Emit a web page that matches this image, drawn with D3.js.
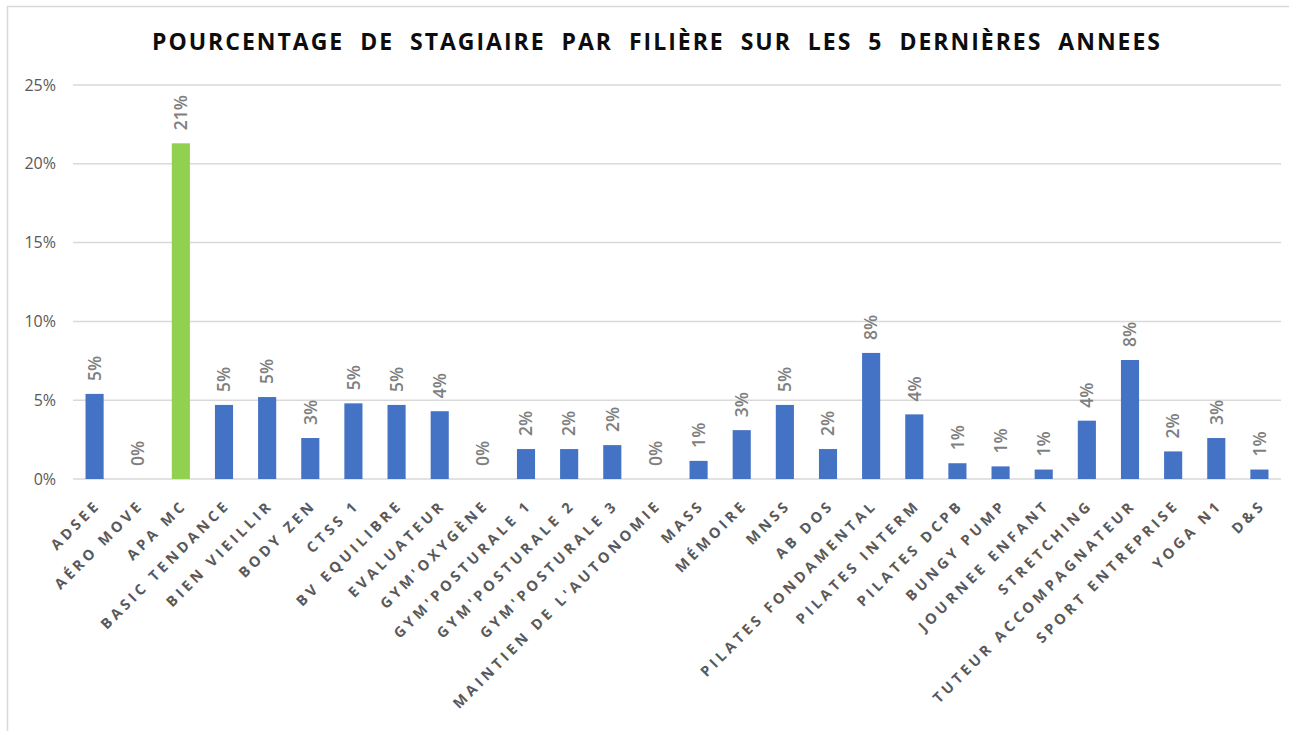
<!DOCTYPE html>
<html>
<head>
<meta charset="utf-8">
<title>Pourcentage de stagiaire par filière</title>
<script src="https://cdnjs.cloudflare.com/ajax/libs/d3/7.8.5/d3.min.js"></script>
<style>
  body { margin: 0; background: #fff; }
  svg text { font-family: "Open Sans", "DejaVu Sans", sans-serif; }
</style>
</head>
<body>
<div id="chart"></div>
<script>
var categories = ["ADSEE", "AÉRO MOVE", "APA MC", "BASIC TENDANCE", "BIEN VIEILLIR", "BODY ZEN",
                  "CTSS 1", "BV EQUILIBRE", "EVALUATEUR", "GYM'OXYGÈNE", "GYM'POSTURALE 1",
                  "GYM'POSTURALE 2", "GYM'POSTURALE 3", "MAINTIEN DE L'AUTONOMIE", "MASS", "MÉMOIRE",
                  "MNSS", "AB DOS", "PILATES FONDAMENTAL", "PILATES INTERM", "PILATES DCPB",
                  "BUNGY PUMP", "JOURNEE ENFANT", "STRETCHING", "TUTEUR ACCOMPAGNATEUR",
                  "SPORT ENTREPRISE", "YOGA N1", "D&S"];
var percents = [5.4, 0, 21.3, 4.7, 5.2, 2.6, 4.8, 4.7, 4.3, 0, 1.9, 1.9, 2.15, 0, 1.15, 3.1,
                4.7, 1.9, 8.0, 4.1, 1.0, 0.8, 0.6, 3.7, 7.55, 1.75, 2.6, 0.6];
var highlight = "APA MC";
var yTicks = [0, 5, 10, 15, 20, 25];
var title = "POURCENTAGE  DE  STAGIAIRE  PAR  FILIÈRE  SUR  LES  5  DERNIÈRES  ANNEES";

var W = 1289, H = 731;
var plot = {left: 73, right: 1281, top: 85, bottom: 479};

var svg = d3.select("#chart").append("svg").attr("width", W).attr("height", H);

// chart frame (cropped on the right/bottom in the original)
svg.append("rect").attr("x", 7.5).attr("y", 6.5).attr("width", W + 20).attr("height", H + 20)
   .attr("fill", "none").attr("stroke", "#d9d9d9").attr("stroke-width", 1.5);

var x = d3.scaleBand().domain(categories).range([plot.left, plot.right])
          .paddingInner(0.58).paddingOuter(0.29);
var y = d3.scaleLinear().domain([0, 25]).range([plot.bottom, plot.top]);

// gridlines
svg.append("g").selectAll("line").data(yTicks).enter().append("line")
   .attr("x1", plot.left).attr("x2", plot.right)
   .attr("y1", function(d){ return y(d); }).attr("y2", function(d){ return y(d); })
   .attr("stroke", "#d9d9d9").attr("stroke-width", 1.5);

// y axis labels
var yAxis = d3.axisLeft(y).tickValues(yTicks).tickSize(0).tickPadding(0)
              .tickFormat(function(d){ return d + "%"; });
var gy = svg.append("g").attr("transform", "translate(56,0)").call(yAxis);
gy.select(".domain").remove();
gy.selectAll("text").attr("font-size", 16).attr("fill", "#595959")
  .attr("font-family", "'Open Sans', sans-serif");

// bars
svg.append("g").selectAll("rect").data(percents).enter().append("rect")
   .attr("x", function(d, i){ return x(categories[i]); })
   .attr("y", function(d){ return y(d); })
   .attr("width", x.bandwidth())
   .attr("height", function(d){ return y(0) - y(d); })
   .attr("fill", function(d, i){ return categories[i] == highlight ? "#92d050" : "#4472c4"; });

// value labels
svg.append("g").selectAll("text").data(percents).enter().append("text")
   .attr("transform", function(d, i){
     return "translate(" + (x(categories[i]) + x.bandwidth() / 2) + "," + (y(d) - 13) + ") rotate(-90)";
   })
   .attr("dy", "0.36em")
   .attr("font-size", 17.5).attr("font-weight", 600).attr("fill", "#7f7f7f")
   .text(function(d){ return Math.round(d) + "%"; });

// category labels
svg.append("g").selectAll("text").data(categories).enter().append("text")
   .attr("transform", function(d){
     return "translate(" + (x(d) + x.bandwidth() / 2 + 7) + "," + 506 + ") rotate(-45)";
   })
   .attr("text-anchor", "end")
   .attr("font-size", 14.5).attr("font-weight", 700).attr("fill", "#595959")
   .attr("letter-spacing", 3.7)
   .text(function(d){ return d; });

// title
svg.append("text").attr("x", 152).attr("y", 50)
   .attr("textLength", 1008).attr("lengthAdjust", "spacing")
   .attr("font-size", 23).attr("font-weight", 700).attr("fill", "#0d0d0d")
   .style("white-space", "pre")
   .text(title);
</script>
</body>
</html>
